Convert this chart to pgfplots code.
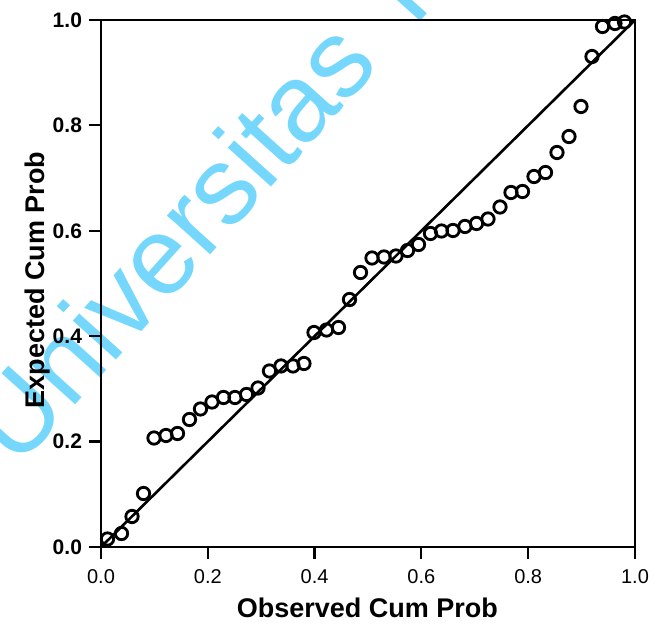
\documentclass[border=0pt]{standalone}
\usepackage{pgfplots}
\pgfplotsset{compat=1.18}
\usepackage{fontspec}
\setmainfont{Liberation Sans}
\definecolor{wm}{HTML}{74D7FB}
\pgfplotstableread{
x y
0.0122 0.0152
0.0384 0.0256
0.0581 0.0579
0.0796 0.1015
0.0993 0.2068
0.1217 0.2116
0.1433 0.2154
0.1657 0.2419
0.1863 0.2619
0.2079 0.2751
0.2294 0.2837
0.2509 0.2837
0.2725 0.2894
0.2940 0.3017
0.3155 0.3340
0.3371 0.3435
0.3596 0.3435
0.3801 0.3482
0.3989 0.4070
0.4223 0.4118
0.4448 0.4165
0.4654 0.4696
0.4860 0.5209
0.5075 0.5484
0.5300 0.5503
0.5524 0.5522
0.5740 0.5626
0.5946 0.5740
0.6170 0.5949
0.6376 0.5996
0.6592 0.6006
0.6816 0.6082
0.7032 0.6139
0.7247 0.6224
0.7472 0.6452
0.7678 0.6727
0.7893 0.6746
0.8109 0.7030
0.8324 0.7106
0.8539 0.7486
0.8764 0.7789
0.8989 0.8359
0.9195 0.9307
0.9391 0.9877
0.9625 0.9934
0.9803 0.9962
}\ppdata
\begin{document}
\begin{tikzpicture}[x=1pt,y=1pt]
\begin{scope}
\clip (-50.5,-40) rectangle (277,273.5);
\node[rotate=48, anchor=base west, inner sep=0pt, text=wm, font=\fontsize{55}{60}\selectfont] at (-42,38.5) {Universitas T};
\end{scope}
\begin{axis}[
  at={(0,0)}, anchor=south west,
  scale only axis, width=267pt, height=263.5pt,
  xmin=0, xmax=1, ymin=0, ymax=1,
  xtick={0,0.2,0.4,0.6,0.8,1.0},
  ytick={0,0.2,0.4,0.6,0.8,1.0},
  xtick pos=bottom, ytick pos=left,
  tick align=outside,
  major tick length=6pt,
  every tick/.style={black, line width=1.1pt},
  axis line style={line width=1.3pt},
  /pgf/number format/.cd, fixed, fixed zerofill, precision=1, assume math mode=true,
  /pgfplots/.cd,
  xticklabel style={font=\fontsize{10}{11}\selectfont, yshift=-1.5pt},
  yticklabel style={font=\bfseries\fontsize{10.5}{11}\selectfont},
  xlabel={Observed Cum Prob},
  ylabel={Expected Cum Prob},
  label style={font=\bfseries\fontsize{13.5}{15}\selectfont},
  xlabel style={at={(axis description cs:0.499,-0.1157)}, anchor=center},
  ylabel style={at={(axis description cs:-0.118,0.507)}, anchor=center},
  clip=false,
]
\addplot[black, line width=1.3pt] coordinates {(0,0) (1,1)};
\addplot[only marks, mark=o, mark size=3.1pt, black, line width=1.4pt] table[x=x,y=y] {\ppdata};
\end{axis}
\pgfresetboundingbox
\path[use as bounding box] (-50.5,-40) rectangle (277,273.5);
\end{tikzpicture}
\end{document}
